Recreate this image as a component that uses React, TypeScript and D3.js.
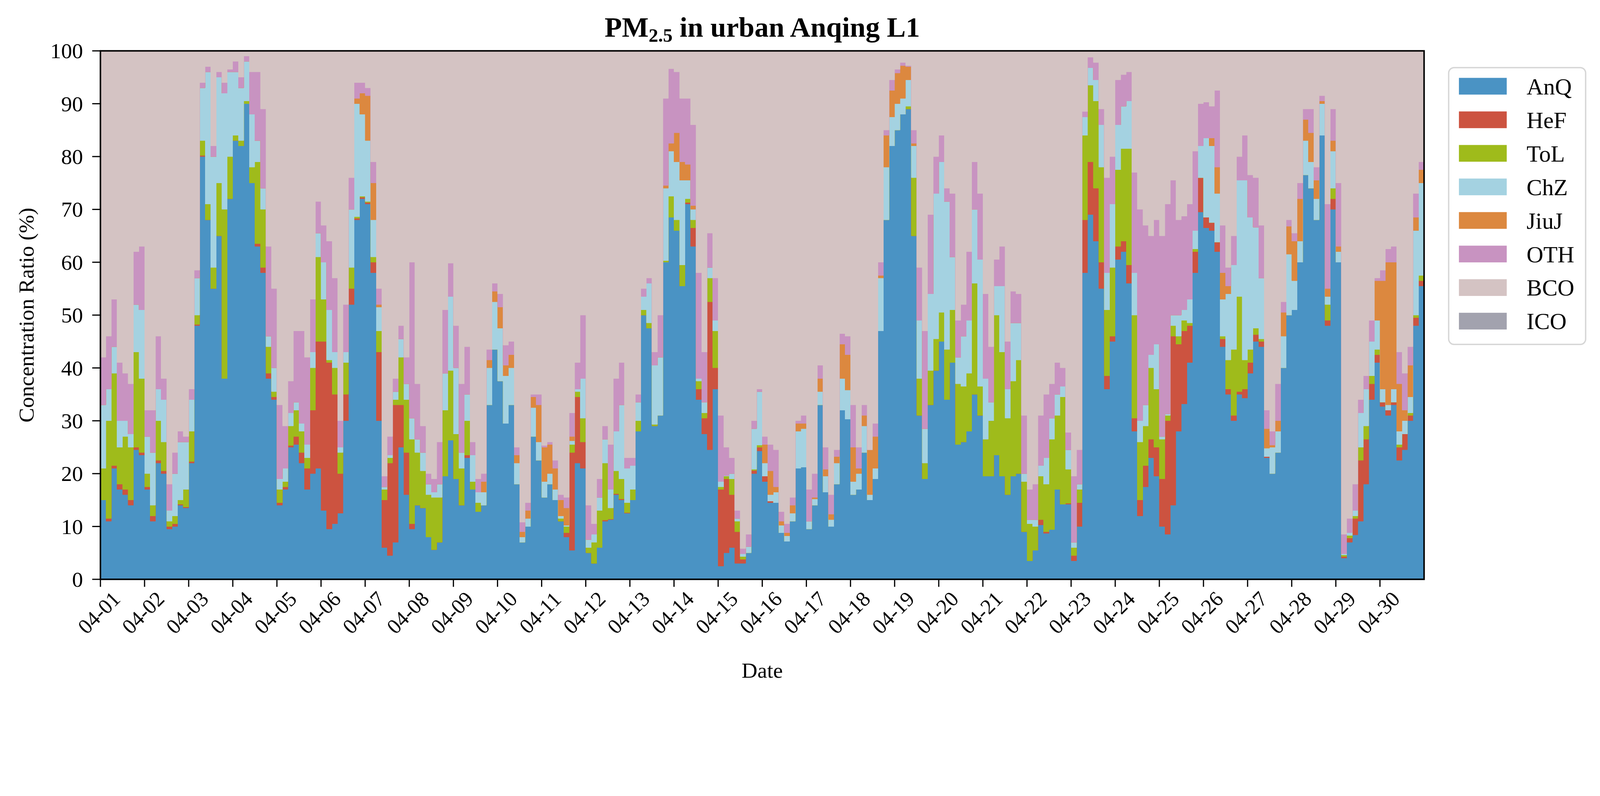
import React from 'react';
import * as d3 from 'd3';

// ---- data: 3-hourly samples, 04-01 00:00 .. 04-30 21:00 (8 per day) ----
const sourceKeys = ['AnQ', 'HeF', 'ToL', 'ChZ', 'JiuJ', 'OTH', 'BCO', 'ICO'];
const sourceColors = ['#4a93c4', '#cc5340', '#9fbb1b', '#a4d2e1', '#dc883f', '#c893c1', '#d4c3c3', '#a2a2ae'];
const dayLabels = ['04-01','04-02','04-03','04-04','04-05','04-06','04-07','04-08','04-09','04-10','04-11','04-12','04-13','04-14','04-15','04-16','04-17','04-18','04-19','04-20','04-21','04-22','04-23','04-24','04-25','04-26','04-27','04-28','04-29','04-30'];
const yTickValues = [0, 10, 20, 30, 40, 50, 60, 70, 80, 90, 100];

const anq = [
  15,11,21,17,16,14,24.5,23.5, 17,11,22,20,9.5,10,14,13.5, 22,48,80,68,55,65,38,72, 83,82,90,75,63,58,38,34,
  14,17,25,25.5,22,17,20,21, 13,9.5,10.5,12.5,30,52,68,72, 71,58,30,6,4.5,7,25,16, 9.5,14,13.5,8,5.6,7,19.5,26.3,
  19,14,23,17,12.8,14,33,43.5, 37.5,29.5,33,18,7,10,27,22.5, 15.5,18,15,11,8,5.5,22,21, 5,3,6,11,11.3,16,15,12.5,
  15,28,50,47.5,29,31,60,68.5, 66,55.5,71,63,34,27.5,24.5,36, 2.5,5,6,3,3,5,20,24.3, 18.5,14.5,14.5,8.8,7.2,11,21,21.2,
  9.5,14,33,16.5,10,18,32,30.3, 16,17,24,15,19,47,68,82, 85,88,89,65,31,19,33,39.5, 45,34,41,25.5,26,28,35,31,
  19.5,19.5,23.5,19.5,16,19.5,20,9, 3.5,5.5,10.3,8.7,9.4,17,14.2,14.2, 3.5,10,58,69,64,55,36,45, 60.5,62,56,28,12,17.5,23,19.5,
  10,8.5,14,28,33.2,41,58,69.5, 66.5,66,62,44,35,30,35,34.3, 39,45,44,23,20,24,40,50, 51,60,76.5,74,68,84,48,70,
  60,4,7,8.4,11,18,34,41, 32.7,31,33,22.5,24.5,30,48,55.5,
];
const hef = [
  0,0.5,0.5,1,1,1,0.5,0.5, 0.5,1,0.5,0.5,0.5,0.5,0.2,0.2, 0.3,0.2,0.2,0,0,0,0,0, 0,0,0,0,0.5,1,1,0.5,
  0.5,0.5,0.3,1.5,2,4,12,24, 32,31.5,24.5,7.5,5,3,0.3,0.3, 0.3,2,13,9,17.5,26,8,8, 1,0,0,0,0,0,0,0,
  0,0,0.5,0,0,0,0,0, 0,0,0,0,0,0,0,0, 0,0,0,0,0.8,18.5,12.5,5, 0,0,0,0.2,0.1,0.2,0.2,0.1,
  0,0,0,0,0,0,0,0, 0,0,0.3,3.5,2,3,28,4, 14.5,14,10,6,0.8,0,0.6,0.7, 1,0.3,0,0,0,0,0,0,
  0,0,0,0,0,0,0,0, 0,0,0,0,0,0,0,0, 0,0,0,0,0,0,0,0, 0,0,0,0,0,0,0,0,
  0,0,0,0,0,0,0,0, 0,0,1,0.3,0,0,0,0.2, 1,4.5,10,10,10,5,2.5,1, 2.5,2,3.5,2.5,3,4,3.5,5.5,
  9,21.5,32,16.5,13.8,7,4,6.5, 2,1.5,1.8,1.5,1,1,0.5,1.7, 2,1.3,1,0.2,0,0,0,0, 0,0,0,0,0,0,1,2,
  0,0.3,0.8,3.1,11.5,8.5,3,1.5, 0.8,1,0.5,2.5,3,1,1.5,1,
];
const tol = [
  6,18.5,17.5,7,10,10,18,14, 2.5,2,7.5,5.5,1,1.5,0.8,3.3, 5.7,1.8,2.8,3,4,10,32,8, 1,1,0.5,3,15.5,11,5,1,
  2.5,1,3.7,5,4,2,8,16, 8,0.5,5,4,6,4,0.3,0.2, 0.2,1,4,2,1,1,9,10, 16,10,7,8,9.9,8.5,12.5,13.2,
  8.5,7,6.5,1.5,1.7,0,0,0, 0,0,0,0,0,0,0,0, 0,0,0,0.5,1.2,1.5,1,4.5, 1,4,7,10.8,2.1,4.3,3.8,1.9,
  2,2,1,1,0.3,0,0.3,4, 2,4,0.7,1.5,1.5,1,4.5,7, 0.5,0.5,3,2,0.5,0,0.2,0.4, 0,0,0,0,0,0,0,0,
  0,0,0,0,0,0,0,0, 0,0,0,0,0,0,0,0, 0,0,0.5,11,7,3,6.5,6, 5.5,9.5,10,11.5,10.5,11,21,5.5,
  7,10.5,26.5,23.5,14.5,18,21.5,9.5, 7,4.5,8.2,9,17.1,14,20.3,6.4, 1.5,2.5,16,14.5,16.5,18,12.5,13, 14.5,17.5,22,19.5,11,7.5,13.5,11,
  7.5,1,2,1.5,2,0.5,0.5,0, 0,0,0,0.5,5.5,12.5,18,5.5, 2.5,1.2,0.5,0,0,0,0,0, 0,0,0,0,0,0,3,2,
  0,0.3,0.5,0.5,2.5,2.5,1.5,1, 0,0,0,0.5,0,0.5,0.5,1,
];
const chz = [
  12,6,5,5,3,2.5,9,13, 7,10,6,8,2,8,11,9, 6,7,10,25,21,20,22,16, 12,10,7.5,10,4,4,2,4.5,
  2,2.5,2.5,1.5,1.5,2.5,3,4.5, 7,9.5,3,1,2,11,21.4,15.5, 11.5,7,4.5,0.5,0.5,1.5,3.5,3, 4,2.5,3.5,2,1,2.5,7,14,
  12.5,3,5,5,2,2.5,7,9, 10,9,7,4,1,1.5,5.5,3.5, 3,2,2,0.5,0.2,0.7,0.5,7.5, 1.5,1.5,2.5,4.5,3.5,7.5,14,6.5,
  4.5,3.5,2.5,7.5,11.2,11,13.7,8.5, 11,16,3.5,2,0.5,2,2,2, 1,0.1,1,0.5,0.5,1.2,7.7,10.1, 2.5,1.2,2,1.4,1,1.5,7,7.3,
  1.5,1.2,2.5,3,1.3,4,6,5.5, 2.5,3,5,1,2,10,10,5.5, 5,3,5,6,11,6.5,14.5,27.5, 28.5,28,10,5,9.5,10,14,24,
  11.5,3.5,5.5,12.5,5.5,11,7,1.5, 0.8,1.3,2,5,4,4,2,3.7, 1,1,3.5,3.3,4,8,7,12, 8.5,8,9,8,4,4,2.5,8.5,
  0.5,0.3,2,4,2,4.5,3.5,6, 15,14.5,9.2,7,12.5,16,22,34, 25,19.1,11.5,1.6,5,4,6,11.5, 5.5,4,6.5,5,4,6,1.5,7,
  2,0.2,0.5,1,6.5,7,6.5,5.5, 2.5,1,2.5,2.5,2.5,3,16,17.5,
];
const jiuj = [
  0,0,0,0,0,0,0,0, 0,0,0,0,0,0,0,0, 0,0,0,0,0,0,0,0, 0,0,0,0,0,0,0,0,
  0,0,0,0,0,0,0,0, 0,0,0,0,0,0,1,4, 8.5,7,0.5,0,0,0,0,0, 0,0,0,0,0,0,0,0,
  0,0,0,0,0,2,1.5,2, 4,2,2.5,1.5,1,1.5,2,7, 6.5,5.5,4,3,3.3,0.8,0,0, 0,0,0,0,0,0,0,0,
  0,0,0,0,0,0,0.5,1.5, 5.5,3.5,3,0.7,0,0,0,0, 0,0,0,0,0,0,0,0, 3.5,4.5,1,0.8,0.6,1.5,1.5,1,
  0,0.3,2.5,1.3,1,1.2,6.5,6.7, 6.5,1,2,8.5,6,0.5,6,5, 5.8,6.2,2.5,0.5,0,0,0,0, 0,0,0,0,0,0,0,0,
  0,0,0,0,0,0,0,0, 0,0,0,0,0,0,0,0, 0,0,0,0,0,0,0,0, 0,0,0,0,0,0,0,0,
  0,0,0,0,0,0,0,0, 0,1.5,5,5,1.5,0,0,0, 0,0,0,3.7,0.4,2,4.5,5.3, 7.5,8,4,5.5,3.5,0.5,1.5,2,
  1,0,0,0,0,0,0,7.5, 20.5,27,24,9,2,6,2.5,2.5,
];
const oth = [
  9,10,9,11,9,9.5,10,12, 5,8,10,4,5,4,2,1, 2,1.5,1,1,2,1,2,0.5, 2,2,1,8,13,15,17,15,
  14,8,6,13.5,17.5,16.5,10,6, 7,13,14,5,9,6,3,2, 1.5,4,3,2,3.5,2.5,2.5,5, 29.5,10.5,5,2,2.5,8,12,6.3,
  8,13,9,2.5,2.5,1.5,2,1.5, 2.5,3.8,2.5,1.5,1.8,1.5,0.5,2, 0.3,0.5,1.5,1,2,4.5,5,12, 6.5,2,3.5,2.5,8.5,10,8,2,
  1.5,1.5,1.5,1,2.5,8,16.5,14.1, 11.5,12,12.5,15.3,20,9.5,6.5,8, 12.5,5.4,3,1.5,1,2.3,1.5,0.5, 1.5,5,7,1.8,1.7,1.5,0.5,1.5,
  6,4.5,2.5,4.2,3.7,1.3,2,3.5, 8,4,2,0,2.5,2.5,1,2, 0.7,0.6,0.2,2.5,10,18.5,15,7, 5,2.5,12,7,6,13,9,12.5,
  16,10.5,5,7.5,9,6,5.5,11, 5.7,6.7,9.5,12,6.5,6,3.5,3.3, 12.5,6.5,1,2,3.3,3,18,9, 8.5,6,5.5,19,40,34,22.5,23.5,
  38,39.7,25.5,18,17.7,18,15,8, 6.8,6,14.5,9,3.5,5.5,4.5,8.5, 8,9.4,10,3.5,2.6,7,2,1.2, 1.5,3,2,4.5,2.5,1,16,6,
  12,3.7,2.7,5,2.5,2.5,4,0.5, 2,2.5,3,6,7,3.5,4.5,1.5,
];
const bco = [
  58,54,47,59,61,63,38,37, 68,68,54,62,82,76,72,73, 64,41.5,6,3,18,4,6,3.5, 2,5,1,4,4,11,37,45,
  67,71,62.5,53,53,58,47,28.5, 33,36,43,70,48,24,6,6, 7,21,45,80.5,73,62,52,58, 40,63,71,80,81,74,49,40.2,
  52,63,56,74,81,80,56.5,44, 46,55.7,55,75,89.2,85.5,65,65, 74.7,74,77.5,84,84.5,68.5,59,50, 86,89.5,81,71,74.5,62,59,77,
  77,65,45,43,57,50,9,3.4, 4,9,9,14,42,57,34.5,43, 69,75,77,87,94.2,91.5,70,64, 73,74.5,75.5,87.2,89.5,84.5,70,69,
  83,80,59.5,75,84,75.5,53.5,54, 67,75,67,75.5,70.5,40,15,5.5, 3.5,2.2,2.8,15,41,53,31,20, 16,26,27,51,48,38,21,27,
  46,56,39.5,37,55,45.5,46,69, 83,82,69,65,63,59,60,72.2, 80.5,75.5,11.5,1.2,2.2,11,24,20, 5.5,4.5,4,23,30,33,35,32,
  35,29,24.5,32,31.3,29,19,10, 9.7,10.5,7.5,33,41,35,20,16, 23.5,24,33,68,72,63,47.5,32, 34.5,25,11,11,22,8.5,29,11,
  25,91.5,88.5,82,66,61.5,51,43, 41.5,37.5,37,57,61,56,27,21,
];
const ico = [
  0,0,0,0,0,0,0,0, 0,0,0,0,0,0,0,0, 0,0,0,0,0,0,0,0, 0,0,0,0,0,0,0,0,
  0,0,0,0,0,0,0,0, 0,0,0,0,0,0,0,0, 0,0,0,0,0,0,0,0, 0,0,0,0,0,0,0,0,
  0,0,0,0,0,0,0,0, 0,0,0,0,0,0,0,0, 0,0,0,0,0,0,0,0, 0,0,0,0,0,0,0,0,
  0,0,0,0,0,0,0,0, 0,0,0,0,0,0,0,0, 0,0,0,0,0,0,0,0, 0,0,0,0,0,0,0,0,
  0,0,0,0,0,0,0,0, 0,0,0,0,0,0,0,0, 0,0,0,0,0,0,0,0, 0,0,0,0,0,0,0,0,
  0,0,0,0,0,0,0,0, 0,0,0,0,0,0,0,0, 0,0,0,0,0,0,0,0, 0,0,0,0,0,0,0,0,
  0,0,0,0,0,0,0,0, 0,0,0,0,0,0,0,0, 0,0,0,0,0,0,0,0, 0,0,0,0,0,0,0,0,
  0,0,0,0,0,0,0,0, 0,0,0,0,0,0,0,0,
];
const seriesValues = [anq, hef, tol, chz, jiuj, oth, bco, ico];
const STEP_HOURS = 3;
const TOTAL_HOURS = 720;

const FONT = "'Liberation Serif', 'Times New Roman', Times, serif";

export default function App() {
  const W = 4684, H = 2039;
  const L = 294, R = 4169, T = 149, B = 1697;

  const x = d3.scaleLinear().domain([0, TOTAL_HOURS]).range([L, R]);
  const y = d3.scaleLinear().domain([0, 100]).range([B, T]);

  const rows: any[] = anq.map((_, i) => {
    const r: any = { t: i * STEP_HOURS };
    sourceKeys.forEach((k, j) => { r[k] = seriesValues[j][i]; });
    return r;
  });
  rows.push({ ...rows[rows.length - 1], t: TOTAL_HOURS });

  const stacked = d3.stack<any>().keys(sourceKeys)(rows);
  const area = d3.area<any>()
    .curve(d3.curveStepAfter)
    .x((d: any) => x(d.data.t))
    .y0((d: any) => y(d[0]))
    .y1((d: any) => y(d[1]));

  const legendX = 4241, legendY = 198, legendW = 401, legendH = 811;
  const rowGap = 98.3, firstRow = 252.6;

  return (
    <div style={{ position: 'absolute', left: 0, top: 0, width: '100vw', height: `calc(100vw * ${H} / ${W})`, background: '#fff', overflow: 'hidden' }}>
      <svg width="100%" height="100%" viewBox={`0 0 ${W} ${H}`} preserveAspectRatio="xMidYMin meet" style={{ display: 'block' }} fontFamily={FONT}>
        <defs>
          <clipPath id="plotclip">
            <rect x={L} y={T} width={R - L} height={B - T} />
          </clipPath>
        </defs>
        <g clipPath="url(#plotclip)">
          <rect x={L} y={T} width={R - L} height={B - T} fill={sourceColors[6]} />
          {stacked.map((s, i) => (
            <path key={s.key} d={area(s as any) || ''} fill={sourceColors[i]} stroke={sourceColors[i]} strokeWidth={0.6} shapeRendering="crispEdges" />
          ))}
        </g>

        {yTickValues.map(v => (
          <g key={v}>
            <line x1={L - 24} x2={L} y1={y(v)} y2={y(v)} stroke="#000" strokeWidth={3.5} />
            <text x={243} y={y(v)} dy="0.34em" textAnchor="end" fontSize={64}>{v}</text>
          </g>
        ))}
        {dayLabels.map((lab, i) => {
          const xv = x(i * 24);
          return (
            <g key={lab}>
              <line x1={xv} x2={xv} y1={B} y2={B + 22} stroke="#000" strokeWidth={3.5} />
              <text transform={`translate(${xv - 4},${B + 98}) rotate(-45)`} textAnchor="middle" dy="0.33em" fontSize={62}>{lab}</text>
            </g>
          );
        })}

        <rect x={L} y={T} width={R - L} height={B - T} fill="none" stroke="#000" strokeWidth={4.5} />

        <text x={(L + R) / 2} y={108} textAnchor="middle" fontSize={83} fontWeight="bold">
          PM<tspan dy={14} fontSize={56}>2.5</tspan><tspan dy={-14}> in urban Anqing L1</tspan>
        </text>
        <text transform={`translate(98,${(T + B) / 2}) rotate(-90)`} textAnchor="middle" fontSize={64}>Concentration Ratio (%)</text>
        <text x={(L + R) / 2} y={1985} textAnchor="middle" fontSize={64}>Date</text>

        <rect x={legendX} y={legendY} width={legendW} height={legendH} rx={16} fill="#fff" stroke="#d6d6d6" strokeWidth={4} />
        {sourceKeys.map((k, i) => {
          const cy = firstRow + i * rowGap;
          return (
            <g key={k}>
              <rect x={4271} y={cy - 24.5} width={140} height={49} fill={sourceColors[i]} />
              <text x={4469} y={cy} dy="0.35em" fontSize={68}>{k}</text>
            </g>
          );
        })}
      </svg>
    </div>
  );
}
